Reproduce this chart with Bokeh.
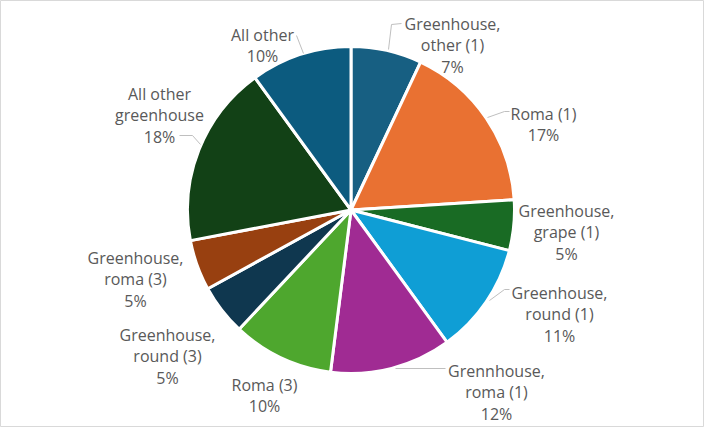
from math import pi

from bokeh.core.properties import value
from bokeh.embed import file_html
from bokeh.models import ColumnDataSource
from bokeh.plotting import figure
from bokeh.resources import INLINE

# --- data ---
categories = [
    "Greenhouse,\nother (1)",
    "Roma (1)",
    "Greenhouse,\ngrape (1)",
    "Greenhouse,\nround (1)",
    "Grennhouse,\nroma (1)",
    "Roma (3)",
    "Greenhouse,\nround (3)",
    "Greenhouse,\nroma (3)",
    "All other\ngreenhouse",
    "All other",
]
shares = [7, 17, 5, 11, 12, 10, 5, 5, 18, 10]
colors = [
    "#175F82", "#E97132", "#196B24", "#0F9ED5", "#A02B93",
    "#4EA72E", "#0F374F", "#984010", "#124116", "#0C5B7F",
]

# --- layout (page pixels of the 720x443 window) ---
W, H = 704, 427
CX, CY, R = 358.5, 217.5, 163.5
FONT = "Open Sans"
LINE_GAP = 21.5

# first line cap-centre of each label block
label_pos = [
    (460, 25), (551, 115), (574, 212), (567, 294), (504, 372),
    (272, 386), (175, 336), (143, 259), (167, 95), (270, 36),
]
leaders = [
    [(396, 57), (399, 32), (409, 31)],
    [(495, 125), (512, 119), (517, 119)],
    [(497, 308), (512, 297), (517, 297)],
    [(403, 376), (453, 376)],
    [(187, 143), (200, 143), (208, 152)],
    [(304, 43), (311, 61)],
]


def px(X, Y):
    return X - 8, (H + 8) - Y


p = figure(
    width=W,
    height=H,
    x_range=(0, W),
    y_range=(0, H),
    output_backend="svg",
    toolbar_location=None,
    min_border=0,
    background_fill_color="white",
    border_fill_color="white",
    outline_line_color="#D9D9D9",
)
p.axis.visible = False
p.grid.visible = False

# wedges, clockwise from 12 o'clock
total = float(sum(shares))
starts, ends = [], []
acc = 0.0
for s in shares:
    starts.append(pi / 2 - 2 * pi * acc / total)
    acc += s
    ends.append(pi / 2 - 2 * pi * acc / total)

cx, cy = px(CX, CY)
src = ColumnDataSource(dict(start=starts, end=ends, color=colors, cat=categories))
p.wedge(
    x=cx, y=cy, radius=R,
    start_angle="start", end_angle="end", direction="clock",
    fill_color="color", line_color="white", line_width=3,
    source=src,
)

# leader lines
xs, ys = [], []
for pts in leaders:
    pp = [px(a, b) for a, b in pts]
    xs.append([q[0] for q in pp])
    ys.append([q[1] for q in pp])
p.multi_line(xs, ys, line_color="#BFBFBF", line_width=1)

# labels: category lines + percentage, one text per line
tx, ty, tt = [], [], []
for cat, s, (lx, ly) in zip(categories, shares, label_pos):
    lines = cat.split("\n") + ["%d%%" % s]
    for i, ln in enumerate(lines):
        x, y = px(lx, ly + i * LINE_GAP + 6)
        tx.append(x)
        ty.append(y)
        tt.append(ln)

p.text(
    tx, ty, text=tt,
    text_font=value(FONT), text_font_size="16px", text_color="#595959",
    text_align="center", text_baseline="alphabetic",
)

open("out.html", "w").write(file_html(p, INLINE))
